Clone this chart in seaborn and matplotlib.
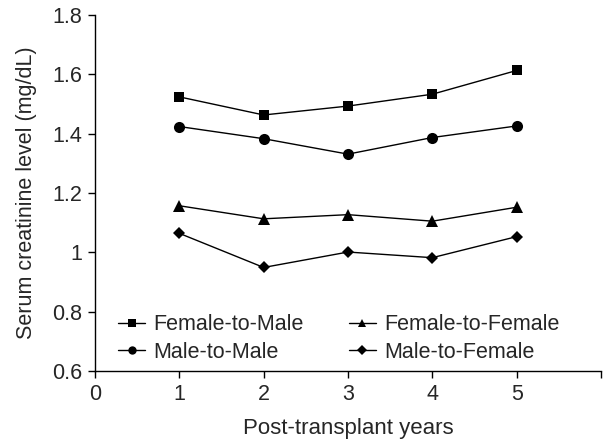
import matplotlib
matplotlib.use("Agg")
import matplotlib.pyplot as plt
import seaborn as sns
import pandas as pd

years = [1, 2, 3, 4, 5]
female_to_male = [1.524, 1.463, 1.493, 1.533, 1.613]
male_to_male = [1.424, 1.383, 1.331, 1.387, 1.426]
female_to_female = [1.157, 1.113, 1.127, 1.105, 1.152]
male_to_female = [1.064, 0.949, 1.001, 0.982, 1.053]
series_names = ["Female-to-Male", "Male-to-Male", "Female-to-Female", "Male-to-Female"]
x_tick_labels = ["0", "1", "2", "3", "4", "5", ""]
y_ticks = [0.6, 0.8, 1.0, 1.2, 1.4, 1.6, 1.8]
y_tick_labels = ["0.6", "0.8", "1", "1.2", "1.4", "1.6", "1.8"]

sns.set_theme(style="ticks")
plt.rcParams['font.family'] = ['Liberation Sans', 'DejaVu Sans']

rows = []
for name, vals in zip(series_names, [female_to_male, male_to_male, female_to_female, male_to_female]):
    for x, v in zip(years, vals):
        rows.append({"year": x, "value": v, "group": name})
df = pd.DataFrame(rows)

fig = plt.figure(figsize=(6.04, 4.42), dpi=100)
ax = fig.add_axes([95/604, 1 - 371/442, 506/604, 356/442])

markers = {"Female-to-Male": "s", "Male-to-Male": "o", "Female-to-Female": "^", "Male-to-Female": "D"}
sizes = {"Female-to-Male": 7, "Male-to-Male": 8, "Female-to-Female": 8, "Male-to-Female": 6.5}
for name in series_names:
    sub = df[df.group == name]
    sns.lineplot(data=sub, x="year", y="value", ax=ax, color="black", lw=1.0,
                 marker=markers[name], markersize=sizes[name], markeredgewidth=0,
                 label=name, legend=False)

ax.set_xlim(0, 6)
ax.set_ylim(0.6, 1.8)
ax.set_xticks(range(0, 7))
ax.set_xticklabels(x_tick_labels, fontsize=15.5)
ax.set_yticks(y_ticks)
ax.set_yticklabels(y_tick_labels, fontsize=15.5)
ax.tick_params(direction="out", length=5, width=1, color="black", pad=4)
for s in ["top", "right"]:
    ax.spines[s].set_visible(False)
for s in ["left", "bottom"]:
    ax.spines[s].set_color("black")
    ax.spines[s].set_linewidth(1.0)

ax.set_xlabel("Post-transplant years", fontsize=16, labelpad=10)
ax.set_ylabel("Serum creatinine level (mg/dL)", fontsize=15.5, labelpad=11)

handles, labels = ax.get_legend_handles_labels()
leg = ax.legend(handles, labels, ncol=2, loc="lower left", bbox_to_anchor=(0.008, -0.031),
                frameon=False, fontsize=15.5, handlelength=1.25, columnspacing=2.1,
                handletextpad=0.37, labelspacing=0.3, markerscale=0.75)

fig.savefig("out.png", dpi=100)
